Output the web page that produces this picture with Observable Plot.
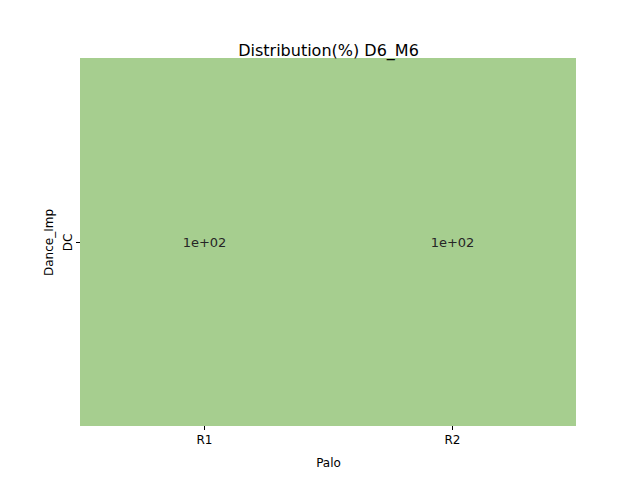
<!DOCTYPE html>
<html><head>
<script src="https://cdn.jsdelivr.net/npm/d3@7"></script>
<script src="https://cdn.jsdelivr.net/npm/@observablehq/plot@0.6"></script>
<style>body{margin:0;background:#fff}</style>
</head><body><div id="c"></div>
<script>
const palos = ["R1","R2"];
const dances = ["DC"];
const values = [100, 100];
const labels = ["1e+02","1e+02"];
const data = palos.map((p,i)=>({palo:p, dance:dances[0], v:values[i], label:labels[i]}));
const chart = Plot.plot({
  width:640, height:480,
  marginLeft:80, marginRight:64, marginTop:58, marginBottom:54,
  style:{fontFamily:"DejaVu Sans", fontSize:"12px", color:"#000", background:"#fff"},
  x:{domain:palos, padding:0, label:"Palo", labelAnchor:"center", labelOffset:40, tickSize:4},
  y:{domain:dances, padding:0, label:"Dance_Imp", labelAnchor:"center", labelOffset:36, tickRotate:-90, tickSize:4},
  marks:[
    Plot.cell(data,{x:"palo", y:"dance", fill:"#a6ce8f"}),
    Plot.text(data,{x:"palo", y:"dance", text:"label", fontSize:13, fill:"#262626"}),
    Plot.text(["Distribution(%) D6_M6"],{frameAnchor:"top", dy:-14, fontSize:16, fill:"#000"})
  ]
});
document.getElementById("c").append(chart);
</script></body></html>
